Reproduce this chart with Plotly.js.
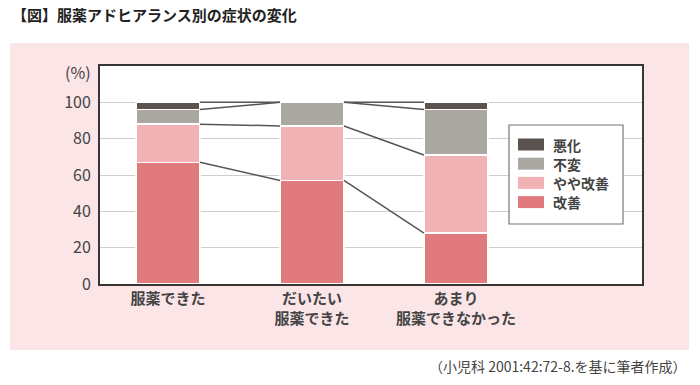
<!DOCTYPE html>
<html>
<head>
<meta charset="utf-8">
<script src="https://cdn.plot.ly/plotly-3.0.1.min.js"></script>
<style>html,body{margin:0;padding:0;background:#fff;}#chart{width:700px;height:385px;}</style>
</head>
<body>
<div id="chart"></div>
<script>
// ---- data ----
const categories = ['服薬できた', 'だいたい服薬できた', 'あまり服薬できなかった'];
const tickLabels = ['服薬できた', 'だいたい<br>服薬できた', 'あまり<br>服薬できなかった'];
const seriesNames = ['改善', 'やや改善', '不変', '悪化'];
const kaizen = [67, 57, 28];      // 改善
const yayaKaizen = [21, 30, 43];  // やや改善
const fuhen = [8, 13, 25];        // 不変
const akka = [4, 0, 4];           // 悪化
const yTicks = [0, 20, 40, 60, 80, 100];

// ---- styles ----
const colors = ['#e07a7c', '#f1b2b5', '#aba8a4', '#5a5350'];
const FONT = '"Noto Sans CJK JP", "Noto Sans", sans-serif';
const TXT = '#444';
const barWidth = 0.444;

const series = [kaizen, yayaKaizen, fuhen, akka];
const xs = categories.map((c, i) => i);

const traces = series.map((vals, s) => ({
  type: 'bar', x: xs, y: vals, name: seriesNames[s], width: barWidth,
  marker: {color: colors[s], line: {color: '#ffffff', width: 1.5}},
  hoverinfo: 'skip', showlegend: false
}));

// cumulative boundaries for connector lines
const cum = [];
series.forEach((vals, s) => {
  cum.push(vals.map((v, i) => v + (s > 0 ? cum[s - 1][i] : 0)));
});
for (let i = 0; i < categories.length - 1; i++) {
  cum.forEach(level => {
    traces.push({
      type: 'scatter', mode: 'lines',
      x: [i + barWidth / 2, i + 1 - barWidth / 2],
      y: [level[i], level[i + 1]],
      line: {color: '#555', width: 1.5},
      hoverinfo: 'skip', showlegend: false
    });
  });
}

// ---- layout geometry ----
const W = 700, H = 385;
const L = 100, R = 58, T = 66, B = 101;
const pw = W - L - R, ph = H - T - B;
const px = x => (x - L) / pw;
const py = y => (H - B - y) / ph;

const shapes = [
  {type: 'rect', xref: 'paper', yref: 'paper', x0: px(10), x1: px(689), y0: py(350), y1: py(43),
   fillcolor: '#fbe5e7', line: {width: 0}, layer: 'below'},
  {type: 'rect', xref: 'paper', yref: 'paper', x0: 0, x1: 1, y0: 0, y1: 1,
   fillcolor: '#ffffff', line: {width: 0}, layer: 'below'},
  // legend box
  {type: 'rect', xref: 'paper', yref: 'paper', x0: px(509), x1: px(623), y0: py(224), y1: py(125),
   fillcolor: '#ffffff', line: {color: '#7a7575', width: 1.2}, layer: 'above'}
];
const annotations = [
  {xref: 'paper', yref: 'paper', x: px(93), y: py(72), xanchor: 'right', yanchor: 'middle',
   text: '(%)', showarrow: false, font: {family: FONT, size: 16, color: TXT}},
  {xref: 'paper', yref: 'paper', x: px(689), y: py(366), xanchor: 'right', yanchor: 'middle',
   text: '（小児科 2001:42:72-8.を基に筆者作成）', showarrow: false,
   font: {family: FONT, size: 14, color: TXT}}
];
// custom legend (top to bottom: 悪化, 不変, やや改善, 改善)
const legendOrder = [3, 2, 1, 0];
legendOrder.forEach((s, k) => {
  const cy = 144.5 + k * 19.2;
  shapes.push({type: 'rect', xref: 'paper', yref: 'paper', x0: px(518), x1: px(544),
    y0: py(cy + 6), y1: py(cy - 6), fillcolor: colors[s], line: {width: 0}, layer: 'above'});
  annotations.push({xref: 'paper', yref: 'paper', x: px(551), y: py(cy), xanchor: 'left', yanchor: 'middle',
    text: seriesNames[s], showarrow: false, font: {family: FONT, size: 14, color: TXT, weight: 'bold'}});
});

const layout = {
  width: W, height: H,
  margin: {l: L, r: R, t: T, b: B, pad: 0},
  paper_bgcolor: '#ffffff', plot_bgcolor: 'rgba(0,0,0,0)',
  barmode: 'stack', bargap: 0,
  showlegend: false,
  title: {text: '【図】服薬アドヒアランス別の症状の変化', xref: 'container', yref: 'container',
    x: 12 / W, xanchor: 'left', y: 1 - 16 / H, yanchor: 'middle',
    font: {family: FONT, size: 15, color: '#222', weight: 'bold'}},
  xaxis: {
    range: [-0.472, 3.292], tickvals: xs, ticktext: tickLabels,
    showgrid: false, zeroline: false, ticks: '',
    showline: true, mirror: true, linecolor: '#3a3535', linewidth: 2,
    tickfont: {family: FONT, size: 15, color: TXT, weight: 'bold'},
    fixedrange: true
  },
  yaxis: {
    range: [0, 120], tickvals: yTicks, ticks: '',
    showgrid: true, gridcolor: '#d0cdcd', gridwidth: 1, zeroline: false,
    showline: true, mirror: true, linecolor: '#3a3535', linewidth: 2,
    tickfont: {family: FONT, size: 16, color: TXT},
    ticklabelstandoff: 4,
    fixedrange: true
  },
  shapes: shapes,
  annotations: annotations
};

Plotly.newPlot('chart', traces, layout, {displayModeBar: false, staticPlot: true});
</script>
</body>
</html>
